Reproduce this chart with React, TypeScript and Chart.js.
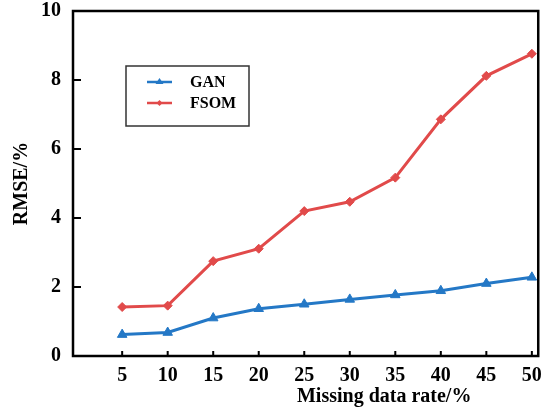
import React, { useEffect, useRef } from "react";
import { Chart, registerables } from "chart.js";

Chart.register(...registerables);

const missingRates = [5, 10, 15, 20, 25, 30, 35, 40, 45, 50];
const ganValues = [0.62, 0.68, 1.1, 1.37, 1.5, 1.64, 1.77, 1.89, 2.1, 2.28];
const fsomValues = [1.42, 1.46, 2.75, 3.11, 4.2, 4.47, 5.17, 6.86, 8.12, 8.76];
const yTicks = [0, 2, 4, 6, 8, 10];
const seriesNames = ["GAN", "FSOM"];
const xTitle = "Missing data rate/%";
const yTitle = "RMSE/%";

const BLUE = "#2478c6";
const RED = "#e14a4a";
const FONT = "'Liberation Serif', 'Times New Roman', serif";

const framePlugin = {
  id: "frameAndTicks",
  afterDraw(chart: any) {
    const { ctx, chartArea } = chart;
    const { left, right, top, bottom } = chartArea;
    const xs = chart.scales.x;
    const ys = chart.scales.y;
    ctx.save();
    ctx.strokeStyle = "#000";
    ctx.lineWidth = 2.5;
    ctx.strokeRect(left, top, right - left, bottom - top);
    ctx.lineWidth = 2;
    ctx.beginPath();
    missingRates.forEach((v) => {
      const px = xs.getPixelForValue(v);
      ctx.moveTo(px, bottom);
      ctx.lineTo(px, bottom - 5);
    });
    yTicks.forEach((v) => {
      const py = ys.getPixelForValue(v);
      ctx.moveTo(left, py);
      ctx.lineTo(left + 8, py);
    });
    ctx.stroke();

    // x title
    ctx.fillStyle = "#000";
    ctx.font = `bold 20px ${FONT}`;
    ctx.textAlign = "left";
    ctx.textBaseline = "middle";
    ctx.fillText(xTitle, xs.getPixelForValue(24.2), 397);

    // legend
    const bx = 126, by = 66, bw = 123, bh = 60;
    ctx.fillStyle = "#fff";
    ctx.fillRect(bx, by, bw, bh);
    ctx.strokeStyle = "#333";
    ctx.lineWidth = 1.5;
    ctx.strokeRect(bx, by, bw, bh);
    const rows = [
      { y: 82, color: BLUE, shape: "tri" },
      { y: 103, color: RED, shape: "dia" },
    ];
    rows.forEach((r, i) => {
      ctx.strokeStyle = r.color;
      ctx.fillStyle = r.color;
      ctx.lineWidth = 2.5;
      ctx.beginPath();
      ctx.moveTo(147, r.y);
      ctx.lineTo(172, r.y);
      ctx.stroke();
      ctx.beginPath();
      if (r.shape === "tri") {
        ctx.moveTo(159.5, r.y - 4);
        ctx.lineTo(163.5, r.y + 2);
        ctx.lineTo(155.5, r.y + 2);
      } else {
        ctx.moveTo(159.5, r.y - 3);
        ctx.lineTo(162.5, r.y);
        ctx.lineTo(159.5, r.y + 3);
        ctx.lineTo(156.5, r.y);
      }
      ctx.closePath();
      ctx.fill();
      ctx.fillStyle = "#000";
      ctx.font = `bold 16px ${FONT}`;
      ctx.textAlign = "left";
      ctx.textBaseline = "middle";
      ctx.fillText(chart.data.datasets[i].label, 190, r.y + 1);
    });
    ctx.restore();
  },
};

export default function App() {
  const ref = useRef<HTMLCanvasElement>(null);
  useEffect(() => {
    if (!ref.current) return;
    const chart = new Chart(ref.current, {
      type: "line",
      data: {
        datasets: [
          {
            label: seriesNames[0],
            data: missingRates.map((x, i) => ({ x, y: ganValues[i] })),
            borderColor: BLUE,
            backgroundColor: BLUE,
            borderWidth: 3,
            pointStyle: "triangle",
            pointRadius: 5.5,
            pointBorderWidth: 1,
          },
          {
            label: seriesNames[1],
            data: missingRates.map((x, i) => ({ x, y: fsomValues[i] })),
            borderColor: RED,
            backgroundColor: RED,
            borderWidth: 3,
            pointStyle: "rectRot",
            pointRadius: 4.5,
            pointBorderWidth: 1,
          },
        ],
      },
      plugins: [framePlugin],
      options: {
        animation: false,
        responsive: true,
        maintainAspectRatio: false,
        layout: { padding: { top: 0, right: 10, left: 0, bottom: 0 } },
        plugins: { legend: { display: false }, tooltip: { enabled: false } },
        scales: {
          x: {
            type: "linear",
            min: -0.4,
            max: 50.7,
            afterBuildTicks: (s: any) => {
              s.ticks = missingRates.map((v) => ({ value: v }));
            },
            afterFit: (s: any) => {
              s.height = 59;
            },
            grid: { display: false, drawTicks: false },
            border: { display: false },
            ticks: {
              color: "#000",
              padding: 8,
              maxRotation: 0,
              autoSkip: false,
              font: { family: FONT, size: 20, weight: "bold" },
            },
          },
          y: {
            type: "linear",
            min: 0,
            max: 10,
            afterBuildTicks: (s: any) => {
              s.ticks = yTicks.map((v) => ({ value: v }));
            },
            afterFit: (s: any) => {
              s.width = 73;
            },
            grid: { display: false, drawTicks: true, tickLength: 12 },
            border: { display: false },
            title: {
              display: true,
              text: yTitle,
              color: "#000",
              padding: { top: 10, bottom: 0 },
              font: { family: FONT, size: 20, weight: "bold" },
            },
            ticks: {
              color: "#000",
              padding: 0,
              font: { family: FONT, size: 20, weight: "bold", lineHeight: 1.1 },
            },
          },
        },
      },
    });
    return () => chart.destroy();
  }, []);
  return (
    <div style={{ position: "fixed", left: 0, top: 0, width: 550, height: 415, background: "#fff" }}>
      <canvas ref={ref} />
    </div>
  );
}
